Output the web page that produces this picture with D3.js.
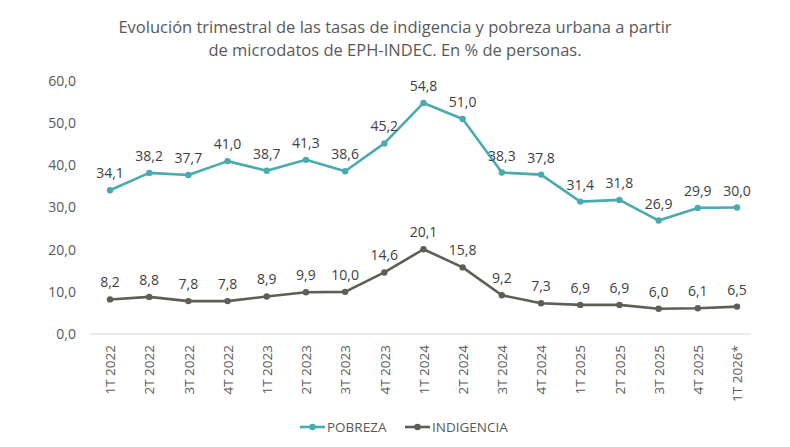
<!DOCTYPE html>
<html><head><meta charset="utf-8">
<script src="https://cdn.jsdelivr.net/npm/d3@7"></script>
<style>body{margin:0;background:#fff}svg{display:block}</style>
</head><body>
<svg id="c" width="790" height="447"></svg>
<script>
const categories = ["1T 2022","2T 2022","3T 2022","4T 2022","1T 2023","2T 2023","3T 2023","4T 2023","1T 2024","2T 2024","3T 2024","4T 2024","1T 2025","2T 2025","3T 2025","4T 2025","1T 2026*"];
const pobreza = [34.1,38.2,37.7,41.0,38.7,41.3,38.6,45.2,54.8,51.0,38.3,37.8,31.4,31.8,26.9,29.9,30.0];
const indigencia = [8.2,8.8,7.8,7.8,8.9,9.9,10.0,14.6,20.1,15.8,9.2,7.3,6.9,6.9,6.0,6.1,6.5];
const yTicks = [0,10,20,30,40,50,60];
const titleLines = ["Evolución trimestral de las tasas de indigencia y pobreza urbana a partir","de microdatos de EPH-INDEC. En % de personas."];
const seriesNames = ["POBREZA","INDIGENCIA"];
const colors = ["#4aabaf","#5c5f56"];

const svg = d3.select("#c");
const font = "'Open Sans', sans-serif";
const fmt = v => d3.format(".1f")(v).replace(".", ",");

const x = d3.scalePoint().domain(categories).range([110, 737]);
const y = d3.scaleLinear().domain([0, 60]).range([334, 81]);

// title
const t1 = svg.append("text").attr("x", 395).attr("y", 33).attr("text-anchor","middle")
  .attr("font-family", font).attr("font-size", 16).attr("fill", "#595959").text(titleLines[0]);
const w = t1.node().getComputedTextLength();
const fs = 16 * 554 / w;
t1.attr("font-size", fs);
svg.append("text").attr("x", 395).attr("y", 56).attr("text-anchor","middle")
  .attr("font-family", font).attr("font-size", fs).attr("fill", "#595959").text(titleLines[1]);

// baseline axis
svg.append("line").attr("x1", 90).attr("x2", 751).attr("y1", y(0)).attr("y2", y(0))
  .attr("stroke", "#d9d9d9").attr("stroke-width", 1);

// y axis labels
const yAxis = d3.axisLeft(y).tickValues(yTicks).tickFormat(fmt).tickSize(0).tickPadding(0);
const gy = svg.append("g").attr("transform", "translate(76,0)").call(yAxis);
gy.select(".domain").remove();
gy.selectAll("text").attr("font-family", font).attr("font-size", 14).attr("fill", "#595959");

// x axis labels
const xAxis = d3.axisBottom(x).tickSize(0).tickPadding(0);
const gx = svg.append("g").attr("transform", `translate(0,${y(0)})`).call(xAxis);
gx.select(".domain").remove();
gx.selectAll("text").attr("font-family", font).attr("font-size", 13.5).attr("fill", "#595959")
  .attr("text-anchor", "end").attr("transform", "translate(0,11) rotate(-90)")
  .attr("x", 0).attr("y", 0).attr("dy", "0.35em");

// series
[pobreza, indigencia].forEach((vals, i) => {
  const data = vals.map((v, j) => ({c: categories[j], v}));
  const line = d3.line().x(d => x(d.c)).y(d => y(d.v));
  svg.append("path").datum(data).attr("d", line).attr("fill", "none")
    .attr("stroke", colors[i]).attr("stroke-width", 2.6).attr("stroke-linejoin","round");
  svg.append("g").selectAll("circle").data(data).join("circle")
    .attr("cx", d => x(d.c)).attr("cy", d => y(d.v)).attr("r", 3.2).attr("fill", colors[i]);
  svg.append("g").selectAll("text").data(data).join("text")
    .attr("x", d => x(d.c)).attr("y", d => y(d.v) - 12).attr("text-anchor", "middle")
    .attr("font-family", font).attr("font-size", 14).attr("fill", "#404040")
    .text(d => fmt(d.v));
});

// legend
const legX = [300, 405];
seriesNames.forEach((n, i) => {
  const g = svg.append("g").attr("transform", `translate(${legX[i]},427)`);
  g.append("line").attr("x1", 0).attr("x2", 25).attr("stroke", colors[i]).attr("stroke-width", 2.6);
  g.append("circle").attr("cx", 12.5).attr("r", 3.2).attr("fill", colors[i]);
  g.append("text").attr("x", 27).attr("dy", "0.35em").attr("font-family", font)
    .attr("font-size", 13.5).attr("fill", "#595959").text(n);
});
</script>
</body></html>
